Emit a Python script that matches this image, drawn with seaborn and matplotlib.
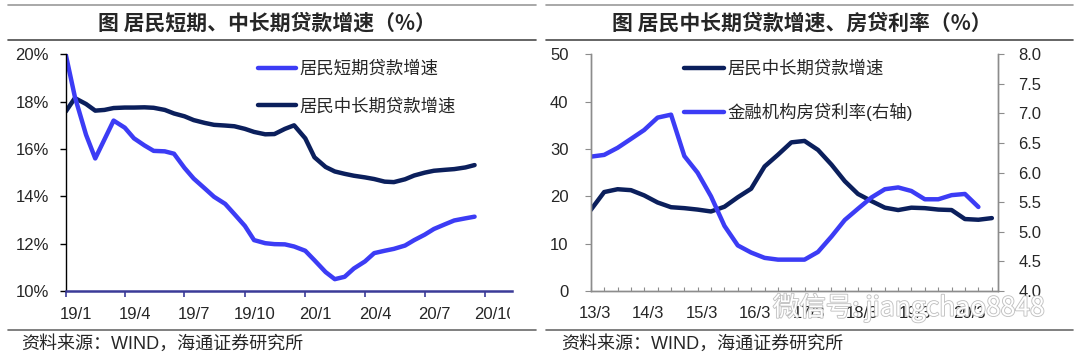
import pandas as pd
import numpy as np
import matplotlib
matplotlib.use("Agg")
import matplotlib.pyplot as plt
import matplotlib.patheffects as pe
import matplotlib.transforms as mtrans
import seaborn as sns
from matplotlib.lines import Line2D

# ---- left panel: household short-term / mid-long-term loan growth (%), semi-monthly readings
short_loan = [20.0, 18.2, 16.6, 15.6, 16.4, 17.2, 16.9, 16.45, 16.15, 15.92,
              15.9, 15.8, 15.2, 14.75, 14.33, 13.98, 13.68, 13.25, 12.75, 12.15,
              12.02, 11.98, 11.97, 11.88, 11.7, 11.3, 10.8, 10.5, 10.6, 10.95,
              11.25, 11.6, 11.7, 11.78, 11.92, 12.15, 12.38, 12.62, 12.82, 12.98,
              13.07, 13.14]
long_loan = [17.58, 18.15, 17.9, 17.62, 17.65, 17.73, 17.75, 17.75, 17.76, 17.74,
             17.65, 17.5, 17.38, 17.22, 17.1, 17.02, 16.99, 16.96, 16.85, 16.72,
             16.62, 16.63, 16.85, 17.0, 16.45, 15.65, 15.24, 15.05, 14.95, 14.87,
             14.8, 14.73, 14.62, 14.6, 14.72, 14.88, 15.0, 15.08, 15.12, 15.15,
             15.22, 15.32]
left_dates = pd.date_range("2019-01-01", periods=len(short_loan), freq="SMS")
left_ticks = ["19/1", "19/4", "19/7", "19/10", "20/1", "20/4", "20/7", "20/10"]
left_tick_dates = pd.date_range("2019-01-01", periods=len(left_ticks), freq="QS-JAN")

# ---- right panel: mid-long-term loan growth (%) and mortgage rate (%, right axis), quarterly
long_loan_q = [17.1, 20.9, 21.5, 21.3, 20.2, 18.7, 17.7, 17.5, 17.2, 16.8,
               17.8, 19.8, 21.6, 26.3, 28.8, 31.4, 31.7, 29.8, 26.7, 23.2,
               20.5, 19.0, 17.6, 17.1, 17.6, 17.5, 17.2, 17.1, 15.2, 15.05,
               15.4]
mortgage_rate = [6.27, 6.30, 6.42, 6.57, 6.72, 6.93, 6.98, 6.28, 6.0, 5.6,
                 5.1, 4.77, 4.65, 4.56, 4.53, 4.53, 4.53, 4.66, 4.92, 5.2,
                 5.39, 5.58, 5.72, 5.75, 5.69, 5.55, 5.55, 5.62, 5.64, 5.42]
right_dates = pd.date_range("2013-03-01", periods=len(long_loan_q), freq="QS-MAR")
rate_dates = right_dates[:len(mortgage_rate)]
right_ticks = ["13/3", "14/3", "15/3", "16/3", "17/3", "18/3", "19/3", "20/3"]

title_left = "图 居民短期、中长期贷款增速（%）"
title_right = "图 居民中长期贷款增速、房贷利率（%）"
source = "资料来源：WIND，海通证券研究所"
watermark = "微信号: jiangchao8848"

LIGHT = "#3c3cf5"
DARK = "#0b1f5c"
GRAY = "#8c8c8c"

sns.set_style("white")
plt.rcParams["font.family"] = ["Liberation Sans", "Noto Sans CJK SC"]

W, H = 1080, 363
fig = plt.figure(figsize=(W / 100, H / 100), dpi=100)


def fx(px):
    return px / W


def fy(py):
    return 1 - py / H


# frame lines, titles, sources
for x0, x1 in [(8, 536), (546, 1073)]:
    fig.add_artist(Line2D([fx(x0), fx(x1)], [fy(5), fy(5)], color="#9a9a9a", lw=1.2))
    fig.add_artist(Line2D([fx(x0), fx(x1)], [fy(39.5), fy(39.5)], color="#4a4a4a", lw=1.2))
    fig.add_artist(Line2D([fx(x0), fx(x1)], [fy(329.5), fy(329.5)], color="#6a6a6a", lw=1.2))
fig.text(fx(267), fy(23.3), title_left, ha="center", va="center", fontsize=15,
         fontweight="bold", family=["Noto Sans CJK SC"])
fig.text(fx(802), fy(23.3), title_right, ha="center", va="center", fontsize=15,
         fontweight="bold", family=["Noto Sans CJK SC"])
fig.text(fx(21), fy(344), source, ha="left", va="center", fontsize=13)
fig.text(fx(561), fy(344), source, ha="left", va="center", fontsize=13)

# ---------------- left chart
AX_L, AX_R = 65.7, 512
ax1 = fig.add_axes([fx(AX_L), fy(291), fx(AX_R - AX_L), (291 - 54.3) / H])
sns.lineplot(x=left_dates, y=long_loan, ax=ax1, color=DARK, lw=3.2,
             label="居民中长期贷款增速")
sns.lineplot(x=left_dates, y=short_loan, ax=ax1, color=LIGHT, lw=3.2,
             label="居民短期贷款增速")
ax1.set_ylim(10, 20)
ax1.set_yticks(np.arange(10, 21, 2))
ax1.set_yticklabels([f"{v}%" for v in range(10, 21, 2)])
ax1.set_xlim(pd.Timestamp("2019-01-01"), pd.Timestamp("2020-11-11"))
ax1.set_xticks(left_tick_dates)
ax1.set_xticklabels(left_ticks)
ax1.set_xlabel("")
ax1.set_ylabel("")
for s in ["top", "right"]:
    ax1.spines[s].set_visible(False)
ax1.spines["left"].set_color("black")
ax1.spines["left"].set_linewidth(1.0)
ax1.spines["bottom"].set_color("#3b3b98")
ax1.spines["bottom"].set_linewidth(1.8)
ax1.tick_params(axis="y", direction="out", length=4, width=1, color="black",
                labelsize=12, pad=8, left=True)
ax1.tick_params(axis="x", direction="out", length=4, width=1.2, color="#3b3b98",
                labelsize=12, pad=7.5, bottom=True)
h, l = ax1.get_legend_handles_labels()
ax1.legend(h[::-1], l[::-1], loc="upper left", bbox_to_anchor=(0.431, 0.975),
           frameon=False, fontsize=12.5, handlelength=2.2, handletextpad=0.2,
           labelspacing=1.19, borderaxespad=0, borderpad=0)

# ---------------- right chart
ax2 = fig.add_axes([fx(590.7), fy(291), fx(998.3 - 590.7), (291 - 54.3) / H])
ax3 = ax2.twinx()
sns.lineplot(x=right_dates, y=long_loan_q, ax=ax2, color=DARK, lw=3.2, legend=False)
sns.lineplot(x=rate_dates, y=mortgage_rate, ax=ax3, color=LIGHT, lw=3.2, legend=False)
ax2.set_ylim(0, 50)
ax2.set_yticks(range(0, 51, 10))
ax3.set_ylim(4.0, 8.0)
ax3.set_yticks(np.arange(4.0, 8.01, 0.5))
ax3.set_yticklabels([f"{v:.1f}" for v in np.arange(4.0, 8.01, 0.5)])
ax2.set_xlim(pd.Timestamp("2013-03-01"), pd.Timestamp("2020-10-15"))
ax2.set_xticks(right_dates)
ax2.set_xticklabels([right_ticks[i // 4] if i % 4 == 0 else "" for i in range(len(right_dates))])
for a in (ax2, ax3):
    a.set_xlabel("")
    a.set_ylabel("")
    a.spines["top"].set_visible(False)
    for s in ["left", "right", "bottom"]:
        a.spines[s].set_color(GRAY)
        a.spines[s].set_linewidth(1.0)
ax2.tick_params(axis="x", direction="in", length=3, color=GRAY, labelsize=12,
                pad=10.5, bottom=True)
ax2.tick_params(axis="y", direction="out", length=4, color=GRAY, labelsize=12,
                pad=12, left=True)
ax3.tick_params(axis="y", direction="out", length=4, color=GRAY, labelsize=12,
                pad=10.5, right=True)
handles = [Line2D([], [], color=DARK, lw=3.2), Line2D([], [], color=LIGHT, lw=3.2)]
ax3.legend(handles, ["居民中长期贷款增速", "金融机构房贷利率(右轴)"], loc="upper left",
           bbox_to_anchor=(0.230, 0.975), frameon=False, fontsize=12.5, handlelength=2.3,
           handletextpad=0.2, labelspacing=1.48, borderaxespad=0, borderpad=0)

# category-style label offsets (labels sit a little right of their ticks)
off_l = mtrans.ScaledTranslation(10 / 100, 0, fig.dpi_scale_trans)
off_r = mtrans.ScaledTranslation(4 / 100, 0, fig.dpi_scale_trans)
clip = mtrans.TransformedBbox(mtrans.Bbox([[0, 0], [fx(510), 1]]), fig.transFigure)
for t in ax1.get_xticklabels():
    t.set_transform(t.get_transform() + off_l)
    t.set_clip_on(True)
    t.set_clip_box(clip)
for t in ax2.get_xticklabels():
    t.set_transform(t.get_transform() + off_r)

# watermark (outlined)
fig.text(fx(773), fy(307.5), watermark, ha="left", va="center", fontsize=19,
         color="white", family=["Noto Sans CJK SC"], zorder=10,
         path_effects=[pe.withStroke(linewidth=1.3, foreground="#c2c2c2")])

fig.savefig("out.png", dpi=100)
